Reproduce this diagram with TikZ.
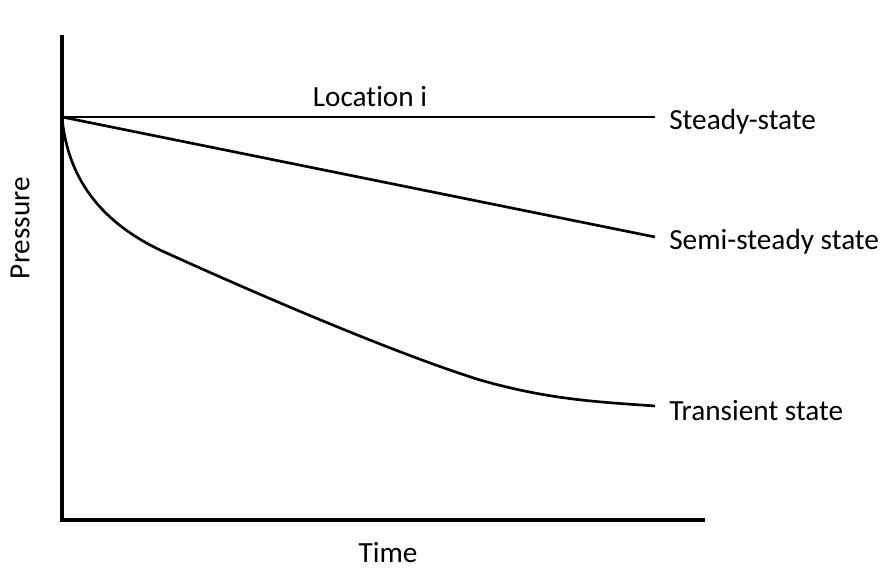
\documentclass[tikz,border=0pt]{standalone}
\usepackage{fontspec}
\setmainfont[Ligatures=NoCommon]{Carlito}
\usetikzlibrary{positioning}
\tikzset{
  axis/.style={line width=2.3pt,draw=black},
  curve/.style={line width=1.9pt,draw=black},
  lbl/.style={font=\fontsize{20.8}{25}\selectfont,inner sep=0pt},
  endlbl/.style={lbl,inner xsep=0.35cm,yshift=-3pt}
}
\begin{document}
\begin{tikzpicture}[x=0.025cm,y=-0.025cm]
\useasboundingbox (0,0) rectangle (880,569);
% axes
\coordinate (origin) at (62,520);
\coordinate (ytop) at (62,35);
\coordinate (xend) at (705,520);
\coordinate (start) at (62,117);
% curve ends
\coordinate (steadyend) at (655,117);
\coordinate (semiend) at (655,237);
\coordinate (transend) at (655,406);

\node[endlbl,right=0pt of steadyend] (steady) {Steady-state};
\node[endlbl,right=0pt of semiend] (semi) {Semi-steady state};
\node[endlbl,right=0pt of transend] (trans) {Transient state};
\node[lbl] (loc) at (370,97) {Location i};
\node[lbl,rotate=90] (pres) at (20,228) {Pressure};
\node[lbl] (time) at (388,553) {Time};

\draw[axis] (ytop) -- (origin) -- (xend);
\draw[curve] (start) -- (steadyend);
\draw[curve] (start) -- (semiend);
\draw[curve] (start) .. controls (68,185) and (108,225) .. (160,250)
  .. controls (270,300) and (400,355) .. (480,380)
  .. controls (550,400) and (600,402) .. (transend);
\end{tikzpicture}
\end{document}
